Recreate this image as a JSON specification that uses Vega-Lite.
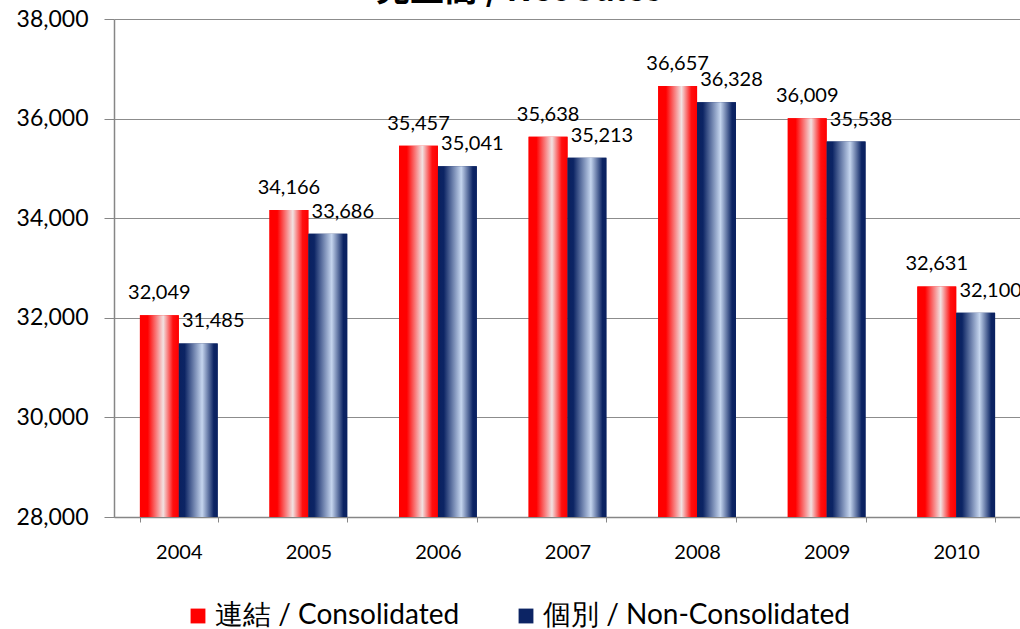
{
  "$schema": "https://vega.github.io/schema/vega-lite/v6.json",
  "width": 907,
  "height": 498,
  "autosize": {"type": "none"},
  "padding": {"left": 114, "top": 19, "right": 0, "bottom": 112},
  "title": {
    "text": "売上高 / Net Sales",
    "font": "Noto Sans CJK JP",
    "fontSize": 34,
    "fontWeight": "bold",
    "color": "#000000",
    "anchor": "middle",
    "frame": "bounds",
    "offset": 0
  },
  "data": {
    "values": [
      {"year": "2004", "series": "連結 / Consolidated", "value": 32049},
      {"year": "2004", "series": "個別 / Non-Consolidated", "value": 31485},
      {"year": "2005", "series": "連結 / Consolidated", "value": 34166},
      {"year": "2005", "series": "個別 / Non-Consolidated", "value": 33686},
      {"year": "2006", "series": "連結 / Consolidated", "value": 35457},
      {"year": "2006", "series": "個別 / Non-Consolidated", "value": 35041},
      {"year": "2007", "series": "連結 / Consolidated", "value": 35638},
      {"year": "2007", "series": "個別 / Non-Consolidated", "value": 35213},
      {"year": "2008", "series": "連結 / Consolidated", "value": 36657},
      {"year": "2008", "series": "個別 / Non-Consolidated", "value": 36328},
      {"year": "2009", "series": "連結 / Consolidated", "value": 36009},
      {"year": "2009", "series": "個別 / Non-Consolidated", "value": 35538},
      {"year": "2010", "series": "連結 / Consolidated", "value": 32631},
      {"year": "2010", "series": "個別 / Non-Consolidated", "value": 32100}
    ]
  },
  "encoding": {
    "x": {
      "field": "year",
      "type": "nominal",
      "scale": {"paddingInner": 0.4, "paddingOuter": 0.2},
      "axis": {
        "title": null,
        "labelAngle": 0,
        "labelFont": "Lato",
        "labelFontSize": 20,
        "labelColor": "#000000",
        "labelPadding": 20,
        "tickBand": "extent",
        "tickColor": "#868686",
        "tickSize": 5,
        "domainColor": "#868686",
        "domainWidth": 1.5,
        "grid": false
      }
    },
    "xOffset": {
      "field": "series",
      "type": "nominal",
      "sort": ["連結 / Consolidated", "個別 / Non-Consolidated"],
      "scale": {"paddingInner": 0, "paddingOuter": 0}
    },
    "y": {
      "field": "value",
      "type": "quantitative",
      "scale": {"domain": [28000, 38000], "zero": false, "nice": false},
      "axis": {
        "title": null,
        "values": [28000, 30000, 32000, 34000, 36000, 38000],
        "format": ",d",
        "labelFont": "Lato",
        "labelFontSize": 23,
        "labelColor": "#000000",
        "labelPadding": 16,
        "tickColor": "#868686",
        "tickSize": 10,
        "domainColor": "#868686",
        "domainWidth": 1.5,
        "gridColor": "#8c8c8c",
        "gridWidth": 1.2
      }
    }
  },
  "layer": [
    {
      "mark": {"type": "bar", "clip": true},
      "encoding": {
        "color": {
          "field": "series",
          "type": "nominal",
          "sort": ["連結 / Consolidated", "個別 / Non-Consolidated"],
          "scale": {
            "domain": ["連結 / Consolidated", "個別 / Non-Consolidated"],
            "range": ["#ff0000", "#0c2464"]
          },
          "legend": {
            "title": null,
            "orient": "none",
            "legendX": 70,
            "legendY": 583,
            "direction": "horizontal",
            "symbolType": "square",
            "symbolSize": 220,
            "symbolStrokeWidth": 0,
            "labelFont": "Lato",
            "labelFontSize": 28,
            "labelColor": "#000000",
            "labelLimit": 400,
            "labelOffset": 3,
            "columnPadding": 52
          }
        }
      }
    },
    {
      "transform": [{"filter": "datum.series === '連結 / Consolidated'"}],
      "mark": {
        "type": "bar",
        "clip": true,
        "color": {
          "gradient": "linear", "x1": 0, "x2": 1, "y1": 0, "y2": 0,
          "stops": [
            {"offset": 0, "color": "#ff0000"},
            {"offset": 0.2, "color": "#ff0000"},
            {"offset": 0.6, "color": "#f2e2e2"},
            {"offset": 0.85, "color": "#ff1010"},
            {"offset": 1, "color": "#ff0000"}
          ]
        }
      },
      "encoding": {}
    },
    {
      "transform": [{"filter": "datum.series === '個別 / Non-Consolidated'"}],
      "mark": {
        "type": "bar",
        "clip": true,
        "color": {
          "gradient": "linear", "x1": 0, "x2": 1, "y1": 0, "y2": 0,
          "stops": [
            {"offset": 0, "color": "#0a2160"},
            {"offset": 0.15, "color": "#0c2464"},
            {"offset": 0.6, "color": "#c5d5ee"},
            {"offset": 0.9, "color": "#0c2464"},
            {"offset": 1, "color": "#0a2160"}
          ]
        }
      },
      "encoding": {}
    },
    {
      "mark": {"type": "text", "font": "Lato", "fontSize": 20, "color": "#000000", "dy": -22, "baseline": "middle"},
      "transform": [{"filter": "datum.series === '連結 / Consolidated'"}],
      "encoding": {
        "text": {"field": "value", "type": "quantitative", "format": ",d"}
      }
    },
    {
      "mark": {"type": "text", "font": "Lato", "fontSize": 20, "color": "#000000", "dy": -22, "dx": 15, "baseline": "middle"},
      "transform": [{"filter": "datum.series === '個別 / Non-Consolidated'"}],
      "encoding": {
        "text": {"field": "value", "type": "quantitative", "format": ",d"}
      }
    }
  ],
  "config": {
    "view": {"stroke": null}
  }
}
